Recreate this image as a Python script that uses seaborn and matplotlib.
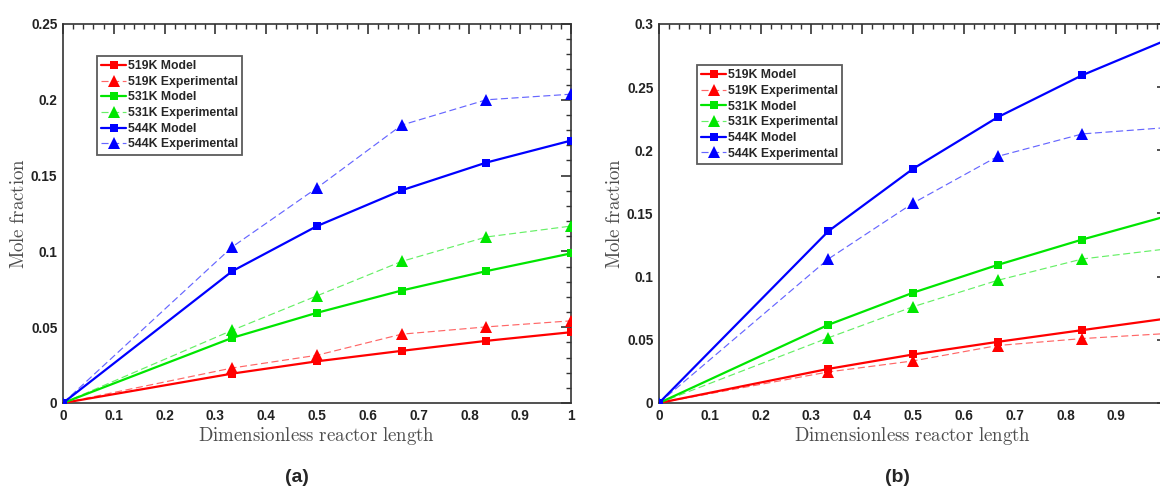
import numpy as np
import pandas as pd
import matplotlib
matplotlib.use("Agg")
import matplotlib.pyplot as plt
from matplotlib.ticker import MultipleLocator, FuncFormatter
from matplotlib.colors import to_rgba
import seaborn as sns

sns.set_theme(style="white")
plt.rcParams['font.family'] = ['Liberation Sans', 'DejaVu Sans']
plt.rcParams['mathtext.fontset'] = 'cm'

x_len = [0, 1/3, 0.5, 2/3, 5/6, 1.0]

a_519_model = [0, 0.0194, 0.0275, 0.0344, 0.041, 0.0467]
a_519_exp = [0, 0.0231, 0.0315, 0.0454, 0.0502, 0.0542]
a_531_model = [0, 0.043, 0.0595, 0.0742, 0.087, 0.0987]
a_531_exp = [0, 0.048, 0.0707, 0.0934, 0.1095, 0.1167]
a_544_model = [0, 0.087, 0.1167, 0.1403, 0.1586, 0.1731]
a_544_exp = [0, 0.103, 0.1419, 0.1833, 0.200, 0.2037]

b_519_model = [0, 0.027, 0.0384, 0.0484, 0.0577, 0.0669]
b_519_exp = [0, 0.0246, 0.0333, 0.0455, 0.051, 0.055]
b_531_model = [0, 0.0619, 0.0873, 0.1093, 0.1294, 0.148]
b_531_exp = [0, 0.0516, 0.0762, 0.0971, 0.114, 0.122]
b_544_model = [0, 0.136, 0.1854, 0.2262, 0.2595, 0.2875]
b_544_exp = [0, 0.114, 0.1582, 0.1952, 0.213, 0.218]

temps = ["519K", "531K", "544K"]
colors = ["#ff0000", "#00e600", "#0000ff"]
panel_labels = ["(a)", "(b)"]

fig = plt.figure(figsize=(11.6, 4.87), dpi=100)
ax_a = fig.add_axes([63/1160, 1-403/487, 508/1160, 379/487])
ax_b = fig.add_axes([659/1160, 1-403/487, 508/1160, 379/487])

panels = [
    (ax_a, [a_519_model, a_531_model, a_544_model], [a_519_exp, a_531_exp, a_544_exp], 0.25, (0.067, 0.916), True),
    (ax_b, [b_519_model, b_531_model, b_544_model], [b_519_exp, b_531_exp, b_544_exp], 0.30, (0.075, 0.892), False),
]

yfmt = FuncFormatter(lambda v, p: ("%g" % round(v, 4)))

for ax, models, exps, ymax, legpos, show_one in panels:
    for t, c, m, e in zip(temps, colors, models, exps):
        sns.lineplot(x=x_len, y=m, ax=ax, color=c, lw=1.6, marker="s", markersize=6,
                     markeredgewidth=0, label=f"{t} Model", zorder=3)
        sns.lineplot(x=x_len, y=e, ax=ax, color=c, lw=0.85, linestyle=(0, (6, 3)),
                     marker="^", markersize=8.5, markeredgewidth=0, label=f"{t} Experimental", zorder=3)
        ln = ax.get_lines()[-1]
        ln.set_color(to_rgba(c, 0.6))
        ln.set_markerfacecolor(c)
        ln.set_markeredgecolor(c)
    ax.set_xlim(0, 1)
    ax.set_ylim(0, ymax)
    ax.xaxis.set_major_locator(MultipleLocator(0.1))
    ax.xaxis.set_minor_locator(MultipleLocator(0.02))
    ax.yaxis.set_major_locator(MultipleLocator(0.05))
    ax.yaxis.set_minor_locator(MultipleLocator(0.01))
    if show_one:
        xfmt = FuncFormatter(lambda v, p: ("%g" % round(v, 4)))
    else:
        # the right end of panel (b) is cropped in the original figure
        xfmt = FuncFormatter(lambda v, p: "" if v > 0.95 else ("%g" % round(v, 4)))
    ax.xaxis.set_major_formatter(xfmt)
    ax.yaxis.set_major_formatter(yfmt)
    ax.tick_params(which="both", direction="in", top=True, right=True, color="#333333")
    ax.tick_params(which="major", length=7.5, width=1.2, labelsize=9.8, pad=4, labelcolor="#222222")
    ax.tick_params(which="minor", length=3.5, width=1.0)
    for lab in ax.get_xticklabels() + ax.get_yticklabels():
        lab.set_fontweight("bold")
    for sp in ax.spines.values():
        sp.set_color("#333333")
        sp.set_linewidth(1.2)
    ax.set_xlabel(r"$\mathrm{Dimensionless\ reactor\ length}$", fontsize=13.6, color="#4d4d4d", labelpad=2)
    ax.set_ylabel(r"$\mathrm{Mole\ fraction}$", fontsize=13.6, color="#4d4d4d", labelpad=2)
    leg = ax.legend(loc="upper left", bbox_to_anchor=legpos, frameon=True, fancybox=False,
                    edgecolor="#333333", prop={"weight": "bold", "size": 8.8},
                    handlelength=2.0, handletextpad=0.15, labelspacing=0.3, borderpad=0.35,
                    borderaxespad=0)
    leg.get_frame().set_linewidth(1.3)
    ax.set_facecolor("white")

fig.text(297/1160, 1-477/487, panel_labels[0], fontsize=14, fontweight="bold", ha="center", va="center")
fig.text(897/1160, 1-477/487, panel_labels[1], fontsize=14, fontweight="bold", ha="center", va="center")

fig.savefig("out.png", dpi=100, facecolor="white")
